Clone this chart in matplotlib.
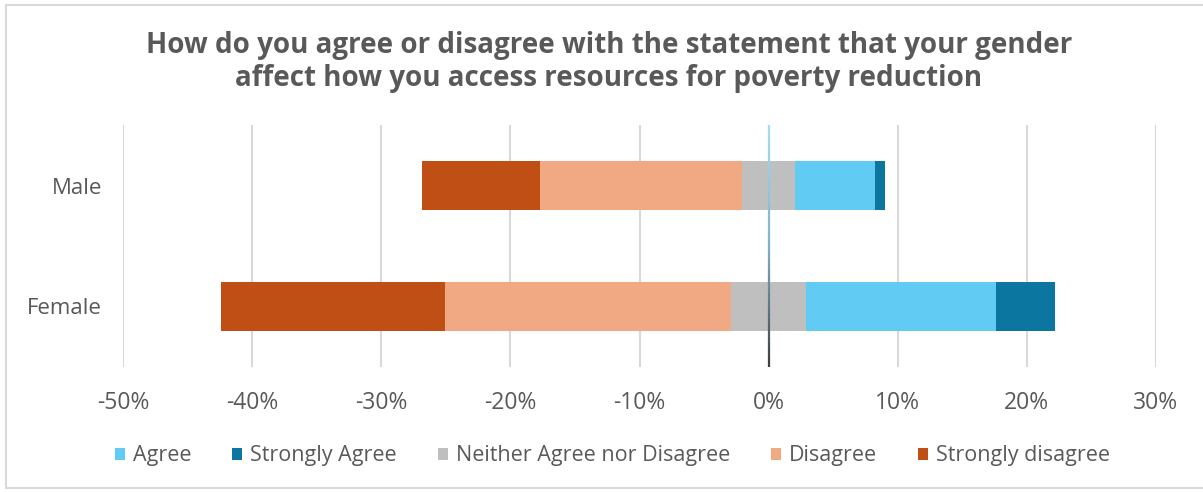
import numpy as np
import matplotlib.pyplot as plt
from matplotlib.lines import Line2D
from matplotlib.patches import Patch
from matplotlib.collections import LineCollection

# ---------- data (percent of respondents) ----------
groups = ["Male", "Female"]
agree = [6.2, 14.7]
strongly_agree = [0.8, 4.6]
neither = [4.05, 5.8]
disagree = [15.7, 22.2]
strongly_disagree = [9.1, 17.3]

series_names = ["Agree", "Strongly Agree", "Neither Agree nor Disagree",
                "Disagree", "Strongly disagree"]
colors = ["#61CBF3", "#0B769F", "#BFBFBF", "#F1A983", "#C04F15"]
tick_vals = [-50, -40, -30, -20, -10, 0, 10, 20, 30]

plt.rcParams["font.family"] = ["Open Sans", "DejaVu Sans"]
TXT = "#595959"

fig = plt.figure(figsize=(12.03, 4.92), dpi=100)
ax = fig.add_axes([123 / 1203, 1 - 367 / 492, 1033 / 1203, 242 / 492])

y = np.arange(len(groups))
h = 0.41
agree = np.array(agree)
strongly_agree = np.array(strongly_agree)
neither = np.array(neither)
disagree = np.array(disagree)
strongly_disagree = np.array(strongly_disagree)

half = neither / 2
# right side
ax.barh(y, half, left=0, height=h, color=colors[2], zorder=2)
ax.barh(y, agree, left=half, height=h, color=colors[0], zorder=2)
ax.barh(y, strongly_agree, left=half + agree, height=h, color=colors[1], zorder=2)
# left side
ax.barh(y, -half, left=0, height=h, color=colors[2], zorder=2)
ax.barh(y, -disagree, left=-half, height=h, color=colors[3], zorder=2)
ax.barh(y, -strongly_disagree, left=-half - disagree, height=h, color=colors[4], zorder=2)

ax.set_xlim(-50, 30)
ax.set_ylim(1.5, -0.5)
ax.set_xticks(tick_vals)
ax.set_xticklabels([f"{v}%" for v in tick_vals])
ax.set_yticks(y)
ax.set_yticklabels(groups)
ax.tick_params(axis="both", length=0, labelsize=16.5, labelcolor=TXT)
ax.tick_params(axis="x", pad=17)
ax.tick_params(axis="y", labelsize=16, pad=15)
for s in ax.spines.values():
    s.set_visible(False)
ax.grid(axis="x", color="#D9D9D9", linewidth=1.5, zorder=0)
ax.set_axisbelow(True)

# zero line: light blue on top fading to dark
n = 40
ys = np.linspace(-0.5, 1.5, n + 1)
segs = [[(0, ys[i]), (0, ys[i + 1])] for i in range(n)]
cmap = plt.matplotlib.colors.LinearSegmentedColormap.from_list("z", ["#A6DBF2", "#7FB3CC", "#404040"])
lc = LineCollection(segs, colors=cmap(np.linspace(0, 1, n)), linewidths=1.6, zorder=3)
ax.add_collection(lc)

fig.text(0.506, 1 - 62 / 492,
         "How do you agree or disagree with the statement that your gender\n"
         "affect how you access resources for poverty reduction",
         ha="center", va="center", fontsize=20, fontweight="bold", color=TXT,
         linespacing=1.17)

handles = [Patch(facecolor=c, edgecolor="none") for c in colors]
fig.legend(handles, series_names, loc="center", bbox_to_anchor=(0.509, 1 - 456 / 492),
           ncol=5, frameon=False, fontsize=15.5, labelcolor=TXT,
           handlelength=0.47, handleheight=0.47, handletextpad=0.37, columnspacing=1.9)

# chart border
border = dict(color="#D9D9D9", linewidth=1.5, transform=fig.transFigure)
fig.add_artist(Line2D([6 / 1203, 6 / 1203], [1 - 5 / 492, 1 - 488 / 492], **border))
fig.add_artist(Line2D([6 / 1203, 1], [1 - 5 / 492, 1 - 5 / 492], **border))
fig.add_artist(Line2D([6 / 1203, 1], [1 - 488 / 492, 1 - 488 / 492], **border))

fig.savefig("out.png", dpi=100)
